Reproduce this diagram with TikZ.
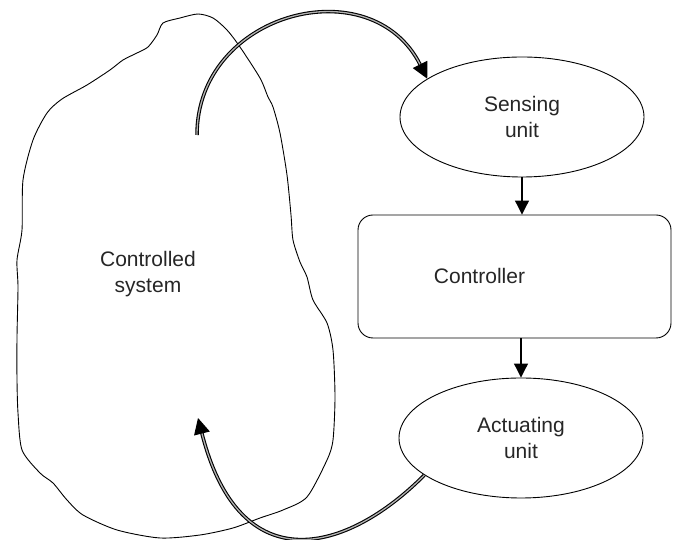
\documentclass[tikz,border=0pt]{standalone}
\usepackage{fontspec}
\setmainfont{Liberation Sans}
\usetikzlibrary{arrows.meta,shapes.geometric}
\begin{document}
\begin{tikzpicture}[x=1pt,y=1pt,
  label text/.style={font=\fontsize{21}{26}\selectfont, align=center, text=black!85},
  unit/.style={draw, line width=0.9pt, ellipse, minimum width=244pt, minimum height=120pt, inner sep=0pt, label text},
  ctrlbox/.style={draw, line width=0.9pt, rectangle, rounded corners=15pt, minimum width=313pt, minimum height=123pt, inner sep=0pt, label text},
  link/.style={line width=1.1pt, -{Triangle[width=14pt,length=14pt]}},
  flow/.style={double=gray!60, double distance=1.3pt, line width=1.1pt, -{Triangle[width=16pt,length=16pt]}},
  outline/.style={line width=0.9pt, line join=round}
]
\useasboundingbox (0,0) rectangle (673,540);

% irregular boundary of the controlled system
\draw[outline] plot[smooth cycle, tension=0.45] coordinates {
  (198,526) (213,522) (227,510) (240,493) (260,462) (268,443) (273,433)
  (280,407) (287,365) (291,325) (293,300) (300,278) (307,263) (313,240)
  (327,217) (333,190) (335,143) (333,100) (327,80) (307,43) (283,30)
  (260,22) (233,12) (200,5) (160,2) (117,10) (83,25) (67,40) (53,57)
  (40,67) (22,90) (18,127) (17,160) (17,203) (18,253) (17,280) (22,310)
  (23,360) (33,400) (47,427) (62,441) (87,455) (110,470) (123,480)
  (137,487) (148,493) (157,505) (163,517) (180,522)};

\node[label text] (sys) at (148,266) {Controlled\\system};

\node[unit] (sens) at (522,423) {Sensing\\unit};
\node[ctrlbox] (ctrl) at (514.5,263.5) {Controller\hspace*{70pt}};
\node[unit] (act) at (521,102) {Actuating\\unit};

\coordinate (sysout) at (197,405);
\coordinate (sysin) at (198,122);

\draw[link] (sens.south) -- (sens.south |- ctrl.north);
\draw[link] (act.north |- ctrl.south) -- (act.north);

\draw[flow] (sysout) .. controls (197,528) and (371,573) .. (sens.158);
\draw[flow] (act.201) .. controls (347,-13) and (240,-43) .. (sysin);
\end{tikzpicture}
\end{document}
